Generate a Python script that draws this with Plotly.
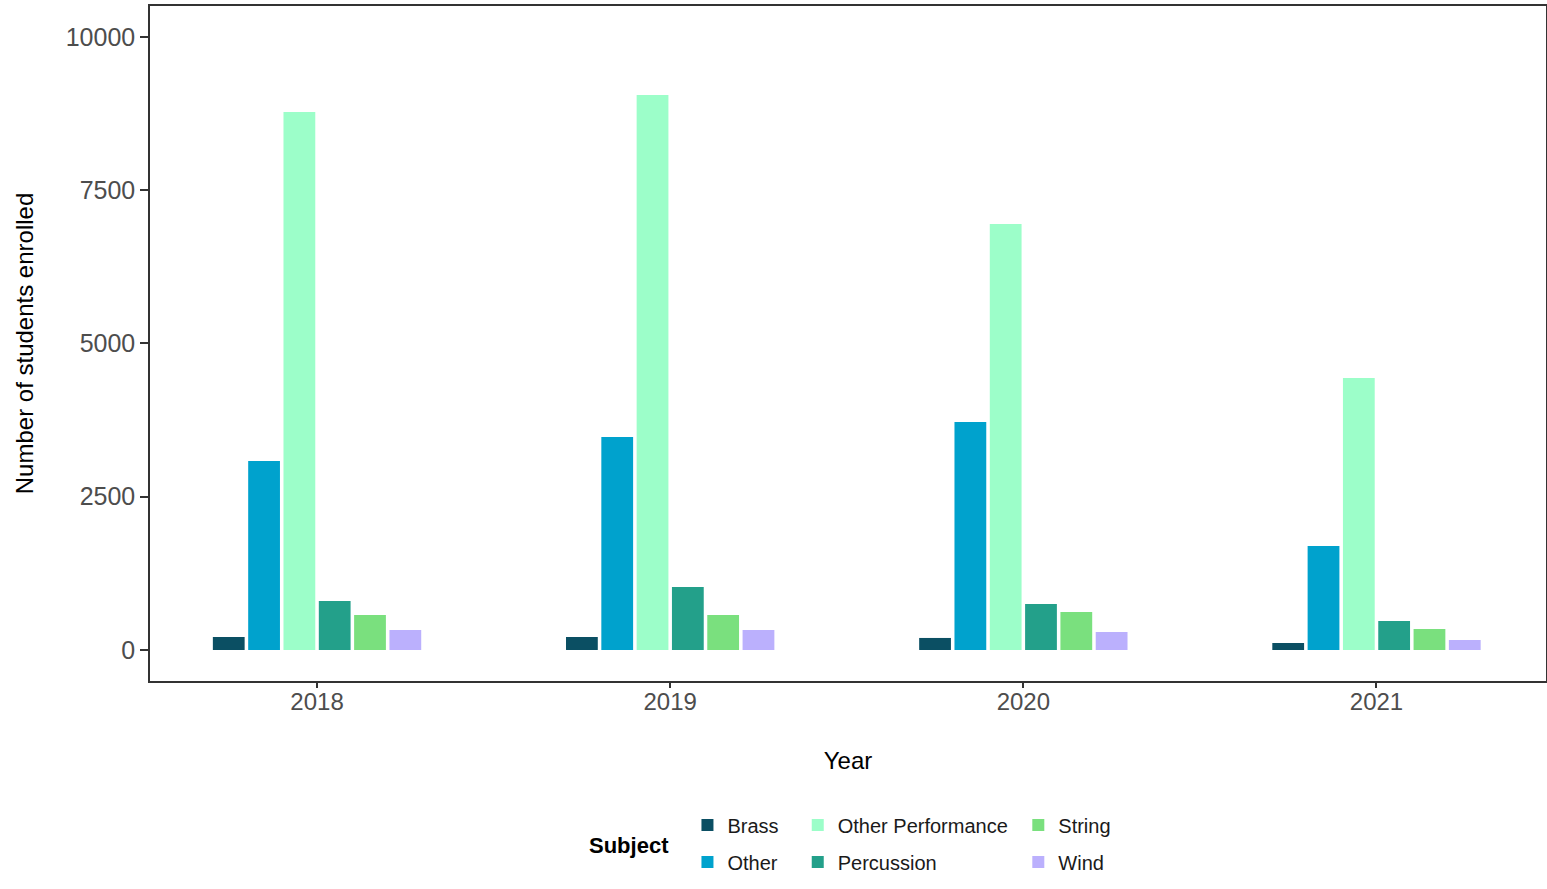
import plotly.graph_objects as go

years = ["2018", "2019", "2020", "2021"]
subjects = ["Brass", "Other", "Other Performance", "Percussion", "String", "Wind"]
brass = [212, 212, 196, 114]
other = [3083, 3474, 3719, 1696]
other_performance = [8775, 9052, 6948, 4436]
percussion = [800, 1028, 750, 473]
string = [571, 571, 620, 342]
wind = [326, 326, 294, 163]
values = [brass, other, other_performance, percussion, string, wind]
colors = ["#0b4f63", "#00a2cd", "#9cfec9", "#23a08a", "#7ae07e", "#bbb0fd"]

y_ticks = [0, 2500, 5000, 7500, 10000]

# legend placement (column, row) in the 3x2 ggplot-style legend grid
legend_cells = [(0, 0), (0, 1), (1, 0), (1, 1), (2, 0), (2, 1)]
col_x = [0.385, 0.464, 0.622]
row_y = [-0.2133, -0.268]

FONT = "Liberation Sans, Arial, sans-serif"

fig = go.Figure()
for i, (name, vals, col) in enumerate(zip(subjects, values, colors)):
    lname = "legend" if i == 0 else f"legend{i+1}"
    fig.add_trace(go.Bar(
        x=years, y=vals, name=name, marker_color=col,
        marker_line_width=0, legend=lname, showlegend=True,
    ))

layout_legends = {}
for i, (c, r) in enumerate(legend_cells):
    lname = "legend" if i == 0 else f"legend{i+1}"
    layout_legends[lname] = dict(
        x=col_x[c], y=row_y[r], xanchor="left", yanchor="middle",
        orientation="v", bgcolor="rgba(0,0,0,0)", borderwidth=0,
        font=dict(family=FONT, size=20, color="#1a1a1a"),
    )

fig.update_layout(
    width=1547, height=889, autosize=False,
    margin=dict(l=150, r=1, t=6, b=208, autoexpand=False),
    paper_bgcolor="white", plot_bgcolor="white",
    showlegend=True,
    barmode="group", bargap=0.4, bargroupgap=0.1,
    font=dict(family=FONT),
    **layout_legends,
    annotations=[dict(
        text="<b>Subject</b>", xref="paper", yref="paper",
        x=(629 - 150) / 1396, y=1 - (845 - 6) / 675,
        xanchor="center", yanchor="middle", showarrow=False,
        font=dict(family=FONT, size=22, color="black"),
    )],
)

fig.update_xaxes(
    type="category", range=[-0.473, 3.48], automargin=False,
    showline=True, linecolor="#333333", linewidth=1.5, mirror=True,
    ticks="outside", ticklen=5, tickcolor="#333333", tickwidth=1.5,
    ticklabelstandoff=-7,
    tickfont=dict(family=FONT, size=24, color="#4d4d4d"),
    title=dict(text="Year", font=dict(family=FONT, size=24, color="black"), standoff=39),
    showgrid=False, zeroline=False,
)
fig.update_yaxes(
    range=[-506, 10504], tickvals=y_ticks, ticktext=[str(v) for v in y_ticks],
    automargin=False,
    showline=True, linecolor="#333333", linewidth=1.5, mirror=True,
    ticks="outside", ticklen=8, tickcolor="#333333", tickwidth=1.5,
    tickfont=dict(family=FONT, size=25, color="#4d4d4d"),
    title=dict(text="Number of students enrolled", font=dict(family=FONT, size=24, color="black"), standoff=25),
    showgrid=False, zeroline=False,
)

fig.write_html(
    "out.html",
    config={"responsive": False, "displayModeBar": False},
    post_script="document.body.style.margin='0px';",
)
